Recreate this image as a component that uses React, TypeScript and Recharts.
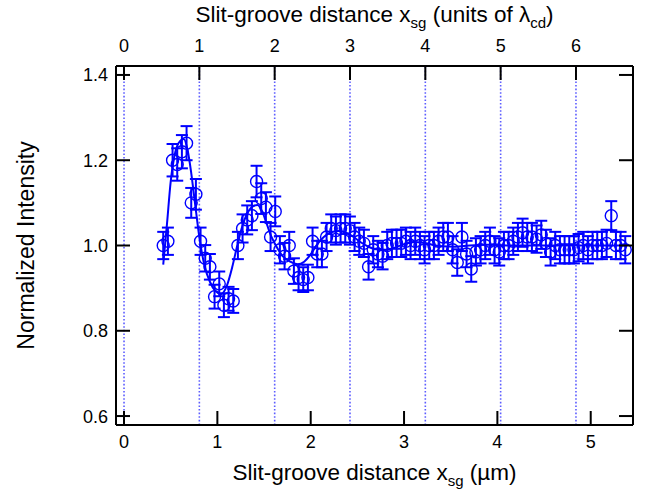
import { ComposedChart, Line, Scatter, ErrorBar, XAxis, YAxis, ReferenceLine } from 'recharts';

/* Normierte Intensität gegen Spalt-Rillen-Abstand — Messpunkte mit Fehlerbalken + Fit-Kurve. */

const W = 657;
const H = 502;
const BLUE = '#0000ff';
const GRID_BLUE = '#5c5cff';
const FONT = '"Liberation Sans", Arial, Helvetica, sans-serif';

// Messpunkte (x in µm)
const positions = [
  0.42, 0.47, 0.52, 0.57, 0.62, 0.67, 0.72, 0.77, 0.82, 0.87,
  0.92, 0.97, 1.02, 1.07, 1.12, 1.17, 1.22, 1.27, 1.32, 1.37,
  1.42, 1.47, 1.52, 1.57, 1.62, 1.67, 1.72, 1.77, 1.82, 1.87,
  1.92, 1.97, 2.02, 2.07, 2.12, 2.17, 2.22, 2.27, 2.32, 2.37,
  2.42, 2.47, 2.52, 2.57, 2.62, 2.67, 2.72, 2.77, 2.82, 2.87,
  2.92, 2.97, 3.02, 3.07, 3.12, 3.17, 3.22, 3.27, 3.32, 3.37,
  3.42, 3.47, 3.52, 3.57, 3.62, 3.67, 3.72, 3.77, 3.82, 3.87,
  3.92, 3.97, 4.02, 4.07, 4.12, 4.17, 4.22, 4.27, 4.32, 4.37,
  4.42, 4.47, 4.52, 4.57, 4.62, 4.67, 4.72, 4.77, 4.82, 4.87,
  4.92, 4.97, 5.02, 5.07, 5.12, 5.17, 5.22, 5.27, 5.32, 5.37,
];
const intensity = [
  1.0, 1.01, 1.2, 1.19, 1.22, 1.24, 1.1, 1.12, 1.01, 0.97,
  0.95, 0.88, 0.91, 0.86, 0.875, 0.87, 1.0, 1.04, 1.06, 1.07,
  1.15, 1.11, 1.09, 1.02, 1.08, 0.99, 0.975, 1.0, 0.94, 0.925,
  0.92, 0.925, 1.01, 0.98, 0.98, 1.02, 1.04, 1.035, 1.04, 1.04,
  1.035, 1.02, 1.01, 1.005, 0.95, 0.99, 0.98, 0.975, 1.0, 1.005,
  1.005, 1.005, 1.01, 1.0, 1.01, 1.0, 0.99, 1.0, 1.0, 1.01,
  1.02, 1.02, 0.99, 0.96, 1.02, 0.98, 0.945, 0.985, 0.99, 1.0,
  1.01, 0.99, 0.985, 1.0, 1.0, 1.01, 1.02, 1.03, 1.02, 1.02,
  1.015, 1.025, 1.005, 0.985, 1.0, 0.99, 0.99, 0.99, 0.99, 0.995,
  1.0, 0.99, 1.0, 1.0, 1.0, 1.005, 1.07, 1.0, 1.0, 0.99,
];
const errors = [
  0.032, 0.032, 0.038, 0.038, 0.039, 0.04, 0.035, 0.036, 0.032, 0.031,
  0.03, 0.028, 0.029, 0.028, 0.028, 0.028, 0.032, 0.033, 0.034, 0.034,
  0.037, 0.036, 0.035, 0.033, 0.035, 0.032, 0.031, 0.032, 0.03, 0.03,
  0.029, 0.03, 0.032, 0.031, 0.031, 0.033, 0.033, 0.033, 0.033, 0.033,
  0.033, 0.033, 0.032, 0.032, 0.03, 0.032, 0.031, 0.031, 0.032, 0.032,
  0.032, 0.032, 0.032, 0.032, 0.032, 0.032, 0.032, 0.032, 0.032, 0.032,
  0.033, 0.033, 0.032, 0.031, 0.033, 0.031, 0.03, 0.032, 0.032, 0.032,
  0.032, 0.032, 0.032, 0.032, 0.032, 0.032, 0.033, 0.033, 0.033, 0.033,
  0.032, 0.033, 0.032, 0.032, 0.032, 0.032, 0.032, 0.032, 0.032, 0.032,
  0.032, 0.032, 0.032, 0.032, 0.032, 0.032, 0.034, 0.032, 0.032, 0.032,
];

// Fit-Kurve (gedämpfte Schwingung)
const fitX = [
  0.42, 0.46, 0.5, 0.55, 0.6, 0.64, 0.68, 0.72, 0.76, 0.81,
  0.86, 0.92, 0.98, 1.04, 1.1, 1.16, 1.21, 1.26, 1.32, 1.38,
  1.43, 1.48, 1.53, 1.58, 1.64, 1.7, 1.78, 1.86, 1.93, 1.99,
  2.06, 2.14, 2.22, 2.3, 2.38, 2.46, 2.54, 2.62, 2.7, 2.8,
  2.9, 3.0, 3.1, 3.2, 3.3, 3.4, 3.55, 3.7, 3.9, 4.1,
  4.4, 4.8, 5.37,
];
const fitV = [
  0.955, 1.05, 1.15, 1.22, 1.245, 1.25, 1.225, 1.17, 1.1, 1.015,
  0.955, 0.915, 0.893, 0.886, 0.905, 0.95, 0.997, 1.04, 1.075, 1.092,
  1.095, 1.08, 1.05, 1.02, 0.995, 0.975, 0.962, 0.956, 0.962, 0.976,
  1.0, 1.02, 1.031, 1.034, 1.03, 1.02, 1.007, 0.997, 0.991, 0.99,
  0.995, 1.003, 1.008, 1.007, 1.002, 0.998, 0.997, 1.0, 1.002, 1.0,
  1.0, 1.0, 1.0,
];

const xTicks = [0, 1, 2, 3, 4, 5];
const yTicks = [0.6, 0.8, 1.0, 1.2, 1.4];
const lambdaTicks = [0, 1, 2, 3, 4, 5, 6];
const LAMBDA_UM = 0.807; // λcd in µm

const X_DOMAIN: [number, number] = [-0.086, 5.453];
const Y_DOMAIN: [number, number] = [0.579, 1.421];

const points = positions.map((x, i) => ({ x, v: intensity[i], e: errors[i] }));
const fit = fitX.map((x, i) => ({ x, v: fitV[i] }));
const lambdaPos = lambdaTicks.map((n) => n * LAMBDA_UM);

const PLOT = { left: 116, top: 66, right: 24, bottom: 77 };
const TICK = 14;

type TickProps = { x?: number; y?: number; payload?: { value: number } };

const BottomTick = ({ x = 0, y = 0, payload }: TickProps) => (
  <g>
    <line x1={x} x2={x} y1={y} y2={y - TICK} stroke="#000" strokeWidth={2} />
    <text x={x} y={y + 23} textAnchor="middle" fontSize={18} fontFamily={FONT} fill="#000">
      {String(payload?.value ?? '')}
    </text>
  </g>
);
const TopTick = ({ x = 0, y = 0, payload }: TickProps) => (
  <g>
    <line x1={x} x2={x} y1={y} y2={y + TICK} stroke="#000" strokeWidth={2} />
    <text x={x} y={y - 14} textAnchor="middle" fontSize={18} fontFamily={FONT} fill="#000">
      {String(Math.round((payload?.value ?? 0) / LAMBDA_UM))}
    </text>
  </g>
);
const LeftTick = ({ x = 0, y = 0, payload }: TickProps) => (
  <g>
    <line x1={x} x2={x + TICK} y1={y} y2={y} stroke="#000" strokeWidth={2} />
    <text x={x - 8} y={y + 6.5} textAnchor="end" fontSize={18} fontFamily={FONT} fill="#000">
      {(payload?.value ?? 0).toFixed(1)}
    </text>
  </g>
);
const RightTick = ({ x = 0, y = 0 }: TickProps) => (
  <line x1={x} x2={x - TICK} y1={y} y2={y} stroke="#000" strokeWidth={2} />
);

const Marker = (p: { cx?: number; cy?: number }) => (
  <circle cx={p.cx} cy={p.cy} r={6} fill="none" stroke={BLUE} strokeWidth={1.4} />
);

const plotW = W - PLOT.left - PLOT.right;
const plotH = H - PLOT.top - PLOT.bottom;
const midX = PLOT.left + plotW / 2;
const midY = PLOT.top + plotH / 2;

export default function App() {
  return (
    <div style={{ position: 'absolute', left: 0, top: 0, width: W, height: H, background: '#fff' }}>
      <ComposedChart width={W} height={H} margin={{ top: 0, right: 0, bottom: 0, left: 0 }}>
        <XAxis
          xAxisId="bottom"
          dataKey="x"
          type="number"
          orientation="bottom"
          domain={X_DOMAIN}
          allowDataOverflow
          ticks={xTicks}
          interval={0}
          height={PLOT.bottom}
          tickSize={0}
          tickMargin={0}
          tickLine={false}
          axisLine={{ stroke: '#000', strokeWidth: 2 }}
          tick={<BottomTick />}
        />
        <XAxis
          xAxisId="top"
          dataKey="x"
          type="number"
          orientation="top"
          domain={X_DOMAIN}
          allowDataOverflow
          ticks={lambdaPos}
          interval={0}
          height={PLOT.top}
          tickSize={0}
          tickMargin={0}
          tickLine={false}
          axisLine={{ stroke: '#000', strokeWidth: 2 }}
          tick={<TopTick />}
        />
        <YAxis
          yAxisId="left"
          dataKey="v"
          type="number"
          orientation="left"
          domain={Y_DOMAIN}
          allowDataOverflow
          ticks={yTicks}
          interval={0}
          width={PLOT.left}
          tickSize={0}
          tickMargin={0}
          tickLine={false}
          axisLine={{ stroke: '#000', strokeWidth: 2 }}
          tick={<LeftTick />}
        />
        <YAxis
          yAxisId="right"
          dataKey="v"
          type="number"
          orientation="right"
          domain={Y_DOMAIN}
          allowDataOverflow
          ticks={yTicks}
          interval={0}
          width={PLOT.right}
          tickSize={0}
          tickMargin={0}
          tickLine={false}
          axisLine={{ stroke: '#000', strokeWidth: 2 }}
          tick={<RightTick />}
        />
        {lambdaPos.map((p) => (
          <ReferenceLine
            key={p}
            x={p}
            xAxisId="bottom"
            yAxisId="left"
            stroke={GRID_BLUE}
            strokeWidth={1.6}
            strokeDasharray="1.6 2"
          />
        ))}
        <Line
          data={fit}
          xAxisId="bottom"
          yAxisId="left"
          dataKey="v"
          type="monotone"
          stroke={BLUE}
          strokeWidth={2}
          dot={false}
          activeDot={false}
          isAnimationActive={false}
        />
        <Scatter
          data={points}
          xAxisId="bottom"
          yAxisId="left"
          dataKey="v"
          shape={<Marker />}
          isAnimationActive={false}
        >
          <ErrorBar dataKey="e" direction="y" width={6} stroke={BLUE} strokeWidth={2} isAnimationActive={false} />
        </Scatter>
        <text x={midX} y={480} textAnchor="middle" fontSize={22.5} fontFamily={FONT} fill="#000">
          Slit-groove distance x
          <tspan fontSize={15} dy={6}>sg</tspan>
          <tspan dy={-6}> (µm)</tspan>
        </text>
        <text x={midX} y={22} textAnchor="middle" fontSize={22.5} fontFamily={FONT} fill="#000">
          Slit-groove distance x
          <tspan fontSize={15} dy={6}>sg</tspan>
          <tspan dy={-6}> (units of λ</tspan>
          <tspan fontSize={15} dy={6}>cd</tspan>
          <tspan dy={-6}>)</tspan>
        </text>
        <text
          x={34}
          y={midY}
          transform={`rotate(-90 34 ${midY})`}
          textAnchor="middle"
          fontSize={23}
          fontFamily={FONT}
          fill="#000"
        >
          Normalized Intensity
        </text>
      </ComposedChart>
    </div>
  );
}
